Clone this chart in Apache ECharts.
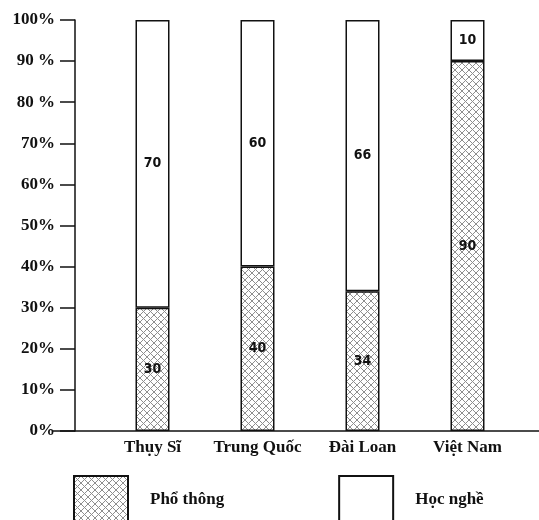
<!DOCTYPE html>
<html><head><meta charset="utf-8">
<script src="https://cdn.jsdelivr.net/npm/echarts@6/dist/echarts.min.js"></script>
<style>html,body{margin:0;padding:0;background:#fff}#c{width:539px;height:520px}</style>
</head><body><div id="c"></div>
<script>
const categories = ['Thụy Sĩ', 'Trung Quốc', 'Đài Loan', 'Việt Nam'];
const phoThong = [30, 40, 34, 90];
const hocNghe = [70, 60, 66, 10];
const yTickLabels = ['0%', '10%', '20%', '30%', '40%', '50%', '60%', '70%', '80 %', '90 %', '100%'];
const seriesNames = ['Phổ thông', 'Học nghề'];

function hatch() {
  const s = 7;
  const c = document.createElement('canvas');
  c.width = s; c.height = s;
  const g = c.getContext('2d');
  g.fillStyle = '#fff'; g.fillRect(0, 0, s, s);
  g.strokeStyle = '#8e8e8e'; g.lineWidth = 1;
  g.beginPath();
  g.moveTo(0, 0); g.lineTo(s, s);
  g.moveTo(s, 0); g.lineTo(0, s);
  g.stroke();
  return c;
}
const pattern = { image: hatch(), repeat: 'repeat' };
const serif = '"Liberation Serif", "DejaVu Serif", serif';
const cond = '"DejaVu Sans Condensed", "DejaVu Sans", sans-serif';

const chart = echarts.init(document.getElementById('c'), null, { renderer: 'canvas' });
chart.setOption({
  animation: false,
  backgroundColor: '#fff',
  grid: [
    { left: 100, right: 19, top: 20, bottom: 89 },
    { left: 53, right: 0, top: 20, bottom: 89 }
  ],
  legend: {
    left: 73, top: 475, padding: 0, itemWidth: 54, itemHeight: 48, itemGap: 114,
    icon: 'rect',
    data: seriesNames,
    textStyle: { fontFamily: serif, fontWeight: 'bold', fontSize: 17, color: '#111', padding: [0, 0, 0, 17] }
  },
  xAxis: [
    {
      type: 'category', gridIndex: 0, data: categories,
      axisLine: { show: false }, axisTick: { show: false },
      axisLabel: { interval: 0, margin: 8, fontFamily: serif, fontWeight: 'bold', fontSize: 17, color: '#111' }
    },
    {
      type: 'value', gridIndex: 1, min: 0, max: 1,
      axisLine: { show: true, lineStyle: { color: '#111', width: 1.5 } },
      axisTick: { show: false }, axisLabel: { show: false }, splitLine: { show: false }
    }
  ],
  yAxis: [
    {
      type: 'value', gridIndex: 0, min: 0, max: 100, interval: 10, offset: 25,
      axisLine: { show: true, lineStyle: { color: '#111', width: 1.5 } },
      axisTick: { show: true, length: 15, lineStyle: { color: '#111', width: 1.5 } },
      splitLine: { show: false },
      axisLabel: {
        margin: 20, fontFamily: serif, fontWeight: 'bold', fontSize: 17, color: '#111',
        formatter: v => yTickLabels[Math.round(v / 10)]
      }
    },
    { type: 'value', gridIndex: 1, show: false }
  ],
  series: [
    {
      name: seriesNames[0], type: 'bar', stack: 'a', data: phoThong, barWidth: 34,
      xAxisIndex: 0, yAxisIndex: 0,
      itemStyle: { color: pattern, borderColor: '#111', borderWidth: 1.5 },
      label: { show: true, position: 'inside', fontFamily: cond, fontWeight: 'bold', fontSize: 14, color: '#111' }
    },
    {
      name: seriesNames[1], type: 'bar', stack: 'a', data: hocNghe, barWidth: 34,
      xAxisIndex: 0, yAxisIndex: 0,
      itemStyle: { color: '#fff', borderColor: '#111', borderWidth: 1.5 },
      label: { show: true, position: 'inside', fontFamily: cond, fontWeight: 'bold', fontSize: 14, color: '#111' }
    }
  ]
});
</script></body></html>
